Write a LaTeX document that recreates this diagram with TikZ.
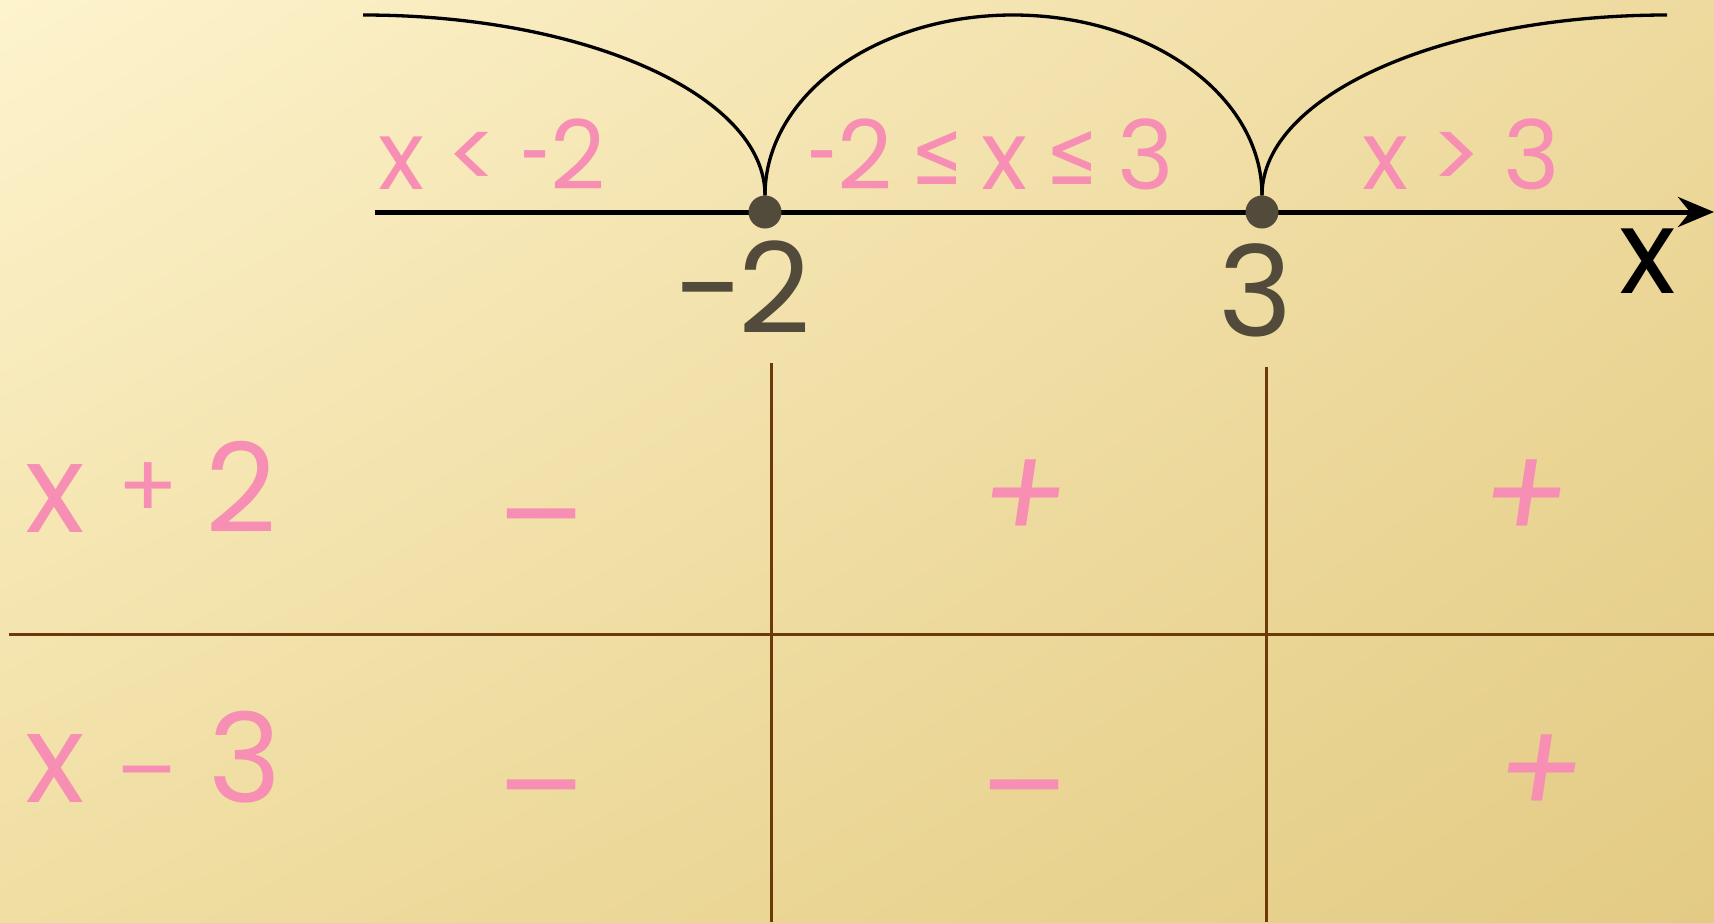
\documentclass[tikz,border=0pt]{standalone}
\usepackage{fontspec}
\usepackage{graphicx}
\setmainfont{Poppins}
\newfontfamily\dejavu{DejaVu Sans}
\usetikzlibrary{arrows.meta,shadings}
\definecolor{pinktxt}{RGB}{247,143,180}
\definecolor{dotbrown}{RGB}{82,74,58}
\definecolor{linebrown}{RGB}{107,58,8}
\definecolor{bgA}{RGB}{253,243,205}
\definecolor{bgB}{RGB}{238,218,158}
\definecolor{bgC}{RGB}{240,222,162}
\definecolor{bgD}{RGB}{227,203,132}
\tikzset{
  dot/.style={circle, fill=dotbrown, minimum size=33pt, inner sep=0pt},
  axisline/.style={line width=5pt, -{Stealth[length=36pt,width=30pt,inset=12pt]}},
  arcline/.style={line width=3.3pt},
  tableline/.style={line width=3pt, draw=linebrown},
  interval/.style={text=pinktxt, anchor=base west, inner sep=0pt, font=\fontsize{96}{100}\selectfont},
  tick/.style={text=dotbrown, anchor=base west, inner sep=0pt, font=\fontsize{126}{130}\selectfont},
  rowlab/.style={text=pinktxt, anchor=base west, inner sep=0pt, font=\fontsize{124}{130}\selectfont},
  sign/.style={text=pinktxt, inner sep=0pt, font=\fontsize{130}{130}\selectfont},
}
\newcommand{\leqs}{\raisebox{5pt}{\scalebox{0.64}[0.95]{\dejavu ≤}}}
\newcommand{\hy}{\scalebox{0.55}[1]{-}}
\newcommand{\gp}{\hspace{19pt}}
\newcommand{\gq}{\hspace{22pt}}
\begin{document}
\begin{tikzpicture}[x=1pt,y=-1pt]
\useasboundingbox (0,0) rectangle (1714,922);
\shade[upper left=bgA, upper right=bgB, lower left=bgC, lower right=bgD] (0,0) rectangle (1714,922);

% number line
\coordinate (s) at (375,212);
\coordinate (e) at (1714,212);
\draw[axisline] (s) -- (e);

% arcs
\coordinate (a0) at (363,15);
\coordinate (pk) at (1013,15);
\coordinate (a3) at (1667,15);
\node[dot] (d1) at (765,212) {};
\node[dot] (d2) at (1262,212) {};
\draw[arcline] (a0) .. controls +(222,0) and +(0,-100) .. (d1.north);
\draw[arcline] (d1.north) .. controls +(0,-100) and +(-137,0) .. (pk)
               .. controls +(137,0) and +(0,-100) .. (d2.north);
\draw[arcline] (d2.north) .. controls +(0,-100) and +(-224,0) .. (a3);

% interval labels
\node[interval] (i1) at (378,189) {x\gq<\gq\hy2};
\node[interval] (i2) at (808,189) {\hy2\gp\leqs\gp x\gp\leqs\gp3};
\node[interval] (i3) at (1362,189) {x\gq>\gq3};

% tick labels
\node[tick] (t1) at (675,333) {-\hspace{-6pt}2};
\node[tick] (t2) at (1218,336) {3};
\node[anchor=base west, inner sep=0pt, font=\fontsize{118}{120}\selectfont] (xl) at (1619,293) {x};

% table lines
\coordinate (hl) at (9,634);
\coordinate (hr) at (1714,634);
\coordinate (v1t) at (771,363);
\coordinate (v1b) at (771,922);
\coordinate (v2t) at (1266,367);
\coordinate (v2b) at (1266,922);
\draw[tableline] (hl) -- (hr);
\draw[tableline] (v1t) -- (v1b);
\draw[tableline] (v2t) -- (v2b);

% row labels
\node[rowlab] (r1) at (25,532) {x\hspace{33pt}\raisebox{14pt}{\fontsize{90}{90}\selectfont +}\hspace{26pt}2};
\node[rowlab] (r2) at (25,802) {x\hspace{32pt}{\fontsize{90}{90}\selectfont –}\hspace{31pt}3};

% signs
\node[sign] (s11) at (541,535) {–};
\node[sign] (s21) at (541,806) {–};
\node[sign] (s22) at (1024,806) {–};
\begin{scope}[shift={(1025,500)}, xslant=0.15]
  \node[sign, transform shape] (s12) at (0,0) {+};
\end{scope}
\begin{scope}[shift={(1526,500)}, xslant=0.15]
  \node[sign, transform shape] (s13) at (0,0) {+};
\end{scope}
\begin{scope}[shift={(1541,775)}, xslant=0.15]
  \node[sign, transform shape] (s23) at (0,0) {+};
\end{scope}
\end{tikzpicture}
\end{document}
